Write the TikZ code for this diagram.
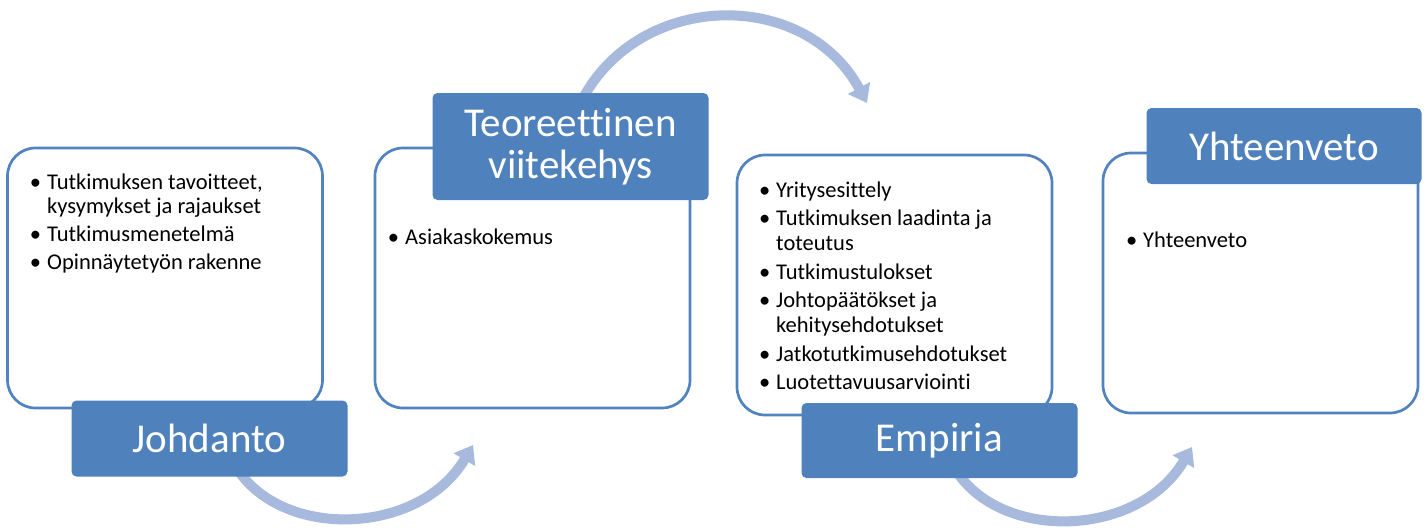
\documentclass[tikz,border=0pt]{standalone}
\usepackage{fontspec}
\setmainfont[Ligatures=NoCommon]{Carlito}
\usetikzlibrary{arrows.meta}
\definecolor{titleblue}{HTML}{4F81BD}
\definecolor{boxline}{HTML}{5083C0}
\definecolor{arrowblue}{HTML}{A7B9DC}
\newcommand{\bul}{\llap{\textbullet\hspace{6pt}}}
\begin{document}
\begin{tikzpicture}[x=1pt,y=-1pt,
  panel/.style={draw=boxline, line width=2.7pt, fill=white, rounded corners=28pt,
    minimum width=315pt, minimum height=260pt, inner sep=0pt},
  titlebox/.style={fill=titleblue, rounded corners=5pt, text=white,
    font=\fontsize{41}{42}\selectfont, align=center, inner sep=0pt, minimum width=276pt},
  bullets/.style={anchor=base west, inner sep=0pt, font=\fontsize{22.5}{25}\selectfont},
  flow/.style={draw=arrowblue, line width=10pt, -{Triangle[width=24pt,length=17pt]}}
]
\fill[white] (0,0) rectangle (1426,528);
\useasboundingbox (0,0) rectangle (1426,528);

% connector end points
\coordinate (a1s) at (238,470);
\coordinate (a1e) at (473,445);
\coordinate (a2s) at (582,100);
\coordinate (a2e) at (867,103);
\coordinate (a3s) at (957,472);
\coordinate (a3e) at (1192,447);

% curved arrows
\draw[flow] (a1s) .. controls (285,540) and (420,535) .. (a1e);
\draw[flow] (a2s) .. controls (640,-10) and (805,-12) .. (a2e);
\draw[flow] (a3s) .. controls (1004,542) and (1139,537) .. (a3e);

% panels
\node[panel] (p1) at (165,278) {};
\node[panel] (p2) at (532.5,278) {};
\node[panel] (p3) at (894.5,285) {};
\node[panel] (p4) at (1260.5,283) {};

% titles
\node[titlebox, minimum height=76pt] (t1) at (209.5,438.5) {Johdanto};
\node[titlebox, minimum height=107pt] (t2) at (570.5,146.5) {Teoreettinen\\viitekehys};
\node[titlebox, minimum height=75pt] (t3) at (939.5,440.5) {Empiria};
\node[titlebox, minimum height=76pt, minimum width=275pt] (t4) at (1284,146) {Yhteenveto};

% bullet texts
\node[bullets] (b1) at (47,189) {\fontsize{22.5}{24}\selectfont\begin{tabular}[t]{@{}l@{}}
\bul Tutkimuksen tavoitteet,\\
kysymykset ja rajaukset\\[4pt]
\bul Tutkimusmenetelmä\\[4pt]
\bul Opinnäytetyön rakenne
\end{tabular}};
\node[bullets] (b2) at (405,244) {\begin{tabular}[t]{@{}l@{}}
\bul Asiakaskokemus
\end{tabular}};
\node[bullets] (b3) at (776,197) {\begin{tabular}[t]{@{}l@{}}
\bul Yritysesittely\\[3.5pt]
\bul Tutkimuksen laadinta ja\\
toteutus\\[3.5pt]
\bul Tutkimustulokset\\[3.5pt]
\bul Johtopäätökset ja\\
kehitysehdotukset\\[3.5pt]
\bul Jatkotutkimusehdotukset\\[3.5pt]
\bul Luotettavuusarviointi
\end{tabular}};
\node[bullets] (b4) at (1143,247) {\begin{tabular}[t]{@{}l@{}}
\bul Yhteenveto
\end{tabular}};
\end{tikzpicture}
\end{document}
